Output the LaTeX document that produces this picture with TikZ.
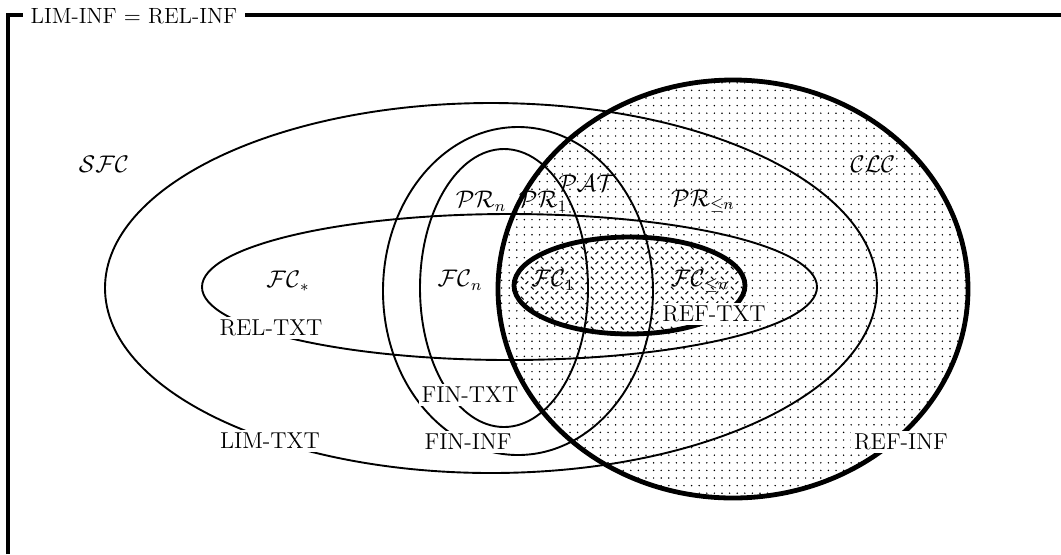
\documentclass[tikz,border=0pt]{standalone}
\usetikzlibrary{patterns}
\pgfdeclarepatternformonly{sdots}{\pgfqpoint{-0.6pt}{-0.6pt}}{\pgfqpoint{0.6pt}{0.6pt}}{\pgfqpoint{3.8pt}{3.8pt}}{%
  \pgfpathcircle{\pgfqpoint{0pt}{0pt}}{0.42pt}\pgfusepath{fill}}
\pgfdeclarepatternformonly{plate}{\pgfqpoint{0pt}{0pt}}{\pgfqpoint{5pt}{5pt}}{\pgfqpoint{5pt}{5pt}}{%
  \pgfsetlinewidth{0.6pt}%
  \pgfpathmoveto{\pgfqpoint{0.5pt}{4.5pt}}\pgfpathlineto{\pgfqpoint{2.0pt}{3.0pt}}%
  \pgfpathmoveto{\pgfqpoint{3.0pt}{0.5pt}}\pgfpathlineto{\pgfqpoint{4.5pt}{2.0pt}}%
  \pgfusepath{stroke}}
\tikzset{
  thinset/.style={line width=0.95pt},
  thickset/.style={line width=2.4pt},
  lbl/.style={font=\fontsize{11.5}{13}\selectfont, inner sep=1pt},
  cutlbl/.style={lbl, fill=white, inner sep=1.5pt},
}
\begin{document}
\begin{tikzpicture}[x=0.5pt,y=-0.5pt]
\useasboundingbox (0,0) rectangle (1061,554);
% frame
\draw[line width=2.3pt] (8,554) -- (8,15) -- (1061,15);
\node[lbl, font=\fontsize{11}{13}\selectfont, fill=white, inner xsep=4pt, inner ysep=2pt] (title) at (134,16) {LIM-INF $=$ REL-INF};
% fills
\fill[pattern=sdots] (733,289) ellipse [x radius=117.5pt, y radius=104.5pt];
\fill[white] (629.5,285.5) ellipse [x radius=57.75pt, y radius=24.25pt];
\fill[pattern=plate] (629.5,285.5) ellipse [x radius=57.75pt, y radius=24.25pt];
% thin curves
\draw[thinset] (491,288) ellipse [x radius=193pt, y radius=92.5pt];
\draw[thinset] (509.5,287) ellipse [x radius=153.75pt, y radius=36.5pt];
\draw[thinset] (518,291) ellipse [x radius=67.5pt, y radius=82pt];
\draw[thinset] (504,288) ellipse [x radius=42pt, y radius=69.5pt];
% thick curves
\draw[thickset] (629.5,285.5) ellipse [x radius=57.75pt, y radius=24.25pt];
\draw[thickset] (733,289) ellipse [x radius=117.5pt, y radius=104.5pt];
% labels
\node[lbl] (sfc) at (104,164) {$\mathcal{SFC}$};
\node[lbl] (clc) at (873,164) {$\mathcal{CLC}$};
\node[lbl] (prn) at (481,201) {$\mathcal{PR}_n$};
\node[lbl] (pr1) at (543,201) {$\mathcal{PR}_1$};
\node[lbl] (pat) at (587,183) {$\mathcal{PAT}$};
\node[lbl] (prle) at (703,201) {$\mathcal{PR}_{\le n}$};
\node[lbl] (fcs) at (288,281) {$\mathcal{FC}_*$};
\node[lbl] (fcn) at (460,280) {$\mathcal{FC}_n$};
\node[lbl] (fc1) at (553,280) {$\mathcal{FC}_1$};
\node[lbl] (fcle) at (700,281) {$\mathcal{FC}_{\le n}$};
\node[cutlbl] (reftxt) at (714,314) {REF-TXT};
\node[cutlbl] (refinf) at (901,442) {REF-INF};
\node[cutlbl] (reltxt) at (271,328) {REL-TXT};
\node[cutlbl] (limtxt) at (270,441) {LIM-TXT};
\node[cutlbl] (fintxt) at (470,395) {FIN-TXT};
\node[cutlbl] (fininf) at (468,442) {FIN-INF};
\end{tikzpicture}
\end{document}
